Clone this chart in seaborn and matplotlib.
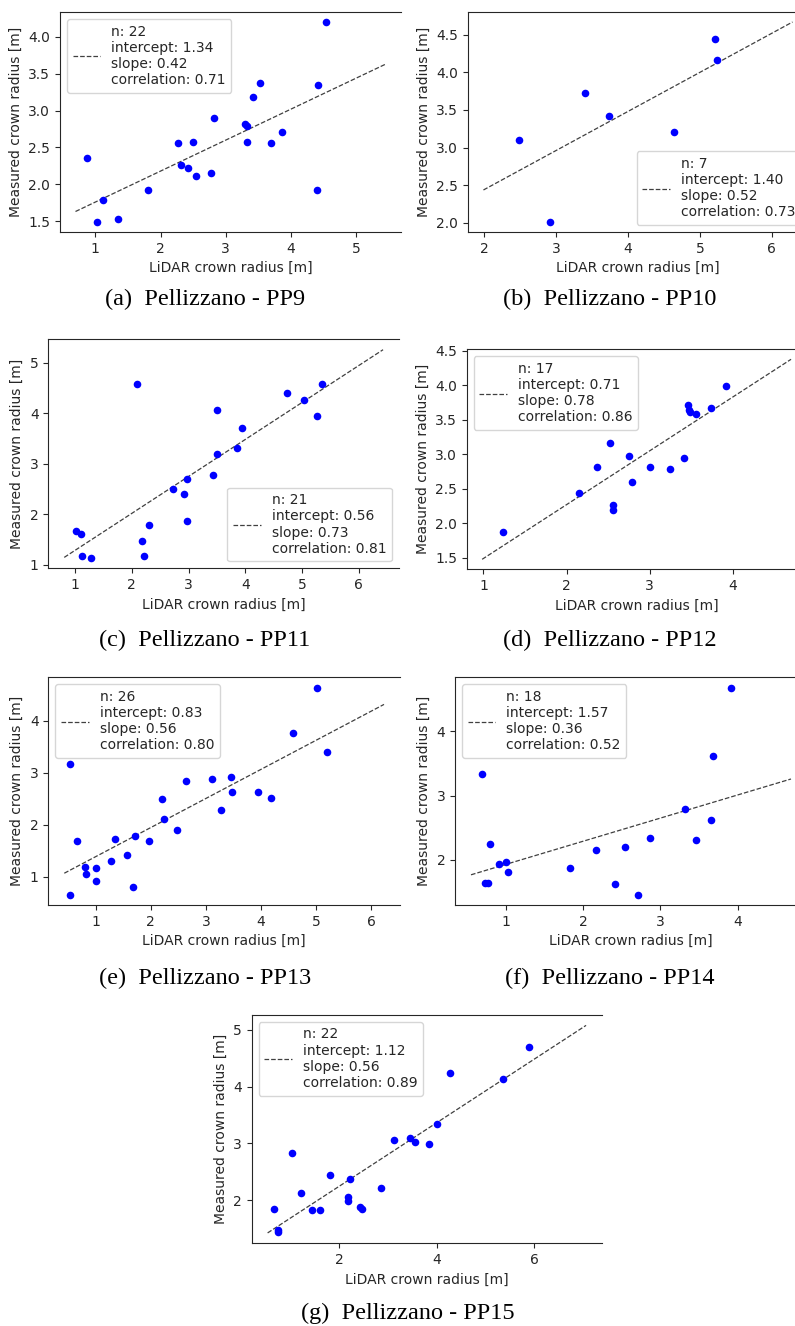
import numpy as np
import pandas as pd
import matplotlib
matplotlib.use("Agg")
import matplotlib.pyplot as plt
from matplotlib.ticker import MultipleLocator
import seaborn as sns

sns.set_style("ticks")
plt.rcParams["font.family"] = ["DejaVu Sans"]
plt.rcParams["font.size"] = 10
plt.rcParams["xtick.major.size"] = 3.5
plt.rcParams["ytick.major.size"] = 3.5

# ---------------- data ----------------
PP9_x = [0.87, 1.02, 1.12, 1.34, 1.81, 2.26, 2.32, 2.42, 2.49, 2.55, 2.77, 2.82, 3.30, 3.32, 3.33, 3.42, 3.52, 3.69, 3.86, 4.40, 4.41, 4.54]
PP9_y = [2.36, 1.49, 1.79, 1.53, 1.92, 2.56, 2.26, 2.22, 2.57, 2.11, 2.16, 2.90, 2.82, 2.79, 2.57, 3.18, 3.38, 2.56, 2.71, 1.93, 3.35, 4.20]

PP10_x = [2.49, 2.91, 3.41, 3.74, 4.64, 5.21, 5.24]
PP10_y = [3.10, 2.01, 3.73, 3.42, 3.21, 4.44, 4.16]

PP11_x = [1.01, 1.11, 1.12, 1.28, 2.10, 2.18, 2.22, 2.30, 2.72, 2.92, 2.98, 2.98, 3.44, 3.50, 3.51, 3.86, 3.95, 4.73, 5.04, 5.27, 5.36]
PP11_y = [1.67, 1.62, 1.18, 1.14, 4.57, 1.48, 1.18, 1.79, 2.50, 2.41, 2.70, 1.87, 2.78, 4.07, 3.20, 3.32, 3.70, 4.40, 4.26, 3.94, 4.57]

PP12_x = [1.23, 2.15, 2.37, 2.52, 2.56, 2.56, 2.75, 2.79, 3.01, 3.25, 3.41, 3.46, 3.47, 3.49, 3.56, 3.74, 3.92]
PP12_y = [1.87, 2.44, 2.82, 3.17, 2.26, 2.19, 2.97, 2.60, 2.81, 2.79, 2.95, 3.71, 3.64, 3.61, 3.58, 3.67, 3.99]

PP13_x = [0.54, 0.54, 0.67, 0.81, 0.82, 1.00, 1.00, 1.27, 1.36, 1.57, 1.67, 1.72, 1.96, 2.20, 2.24, 2.47, 2.64, 3.11, 3.27, 3.46, 3.48, 3.94, 4.18, 4.58, 5.01, 5.19]
PP13_y = [3.18, 0.66, 1.69, 1.19, 1.06, 1.17, 0.92, 1.31, 1.73, 1.43, 0.80, 1.79, 1.69, 2.49, 2.12, 1.91, 2.84, 2.88, 2.28, 2.92, 2.63, 2.63, 2.51, 3.76, 4.64, 3.40]

PP14_x = [0.69, 0.73, 0.77, 0.80, 0.92, 1.00, 1.03, 1.83, 2.17, 2.42, 2.55, 2.71, 2.87, 3.32, 3.46, 3.66, 3.68, 3.91]
PP14_y = [3.33, 1.64, 1.64, 2.25, 1.94, 1.97, 1.82, 1.87, 2.15, 1.63, 2.20, 1.46, 2.34, 2.80, 2.31, 2.62, 3.62, 4.68]

PP15_x = [0.67, 0.75, 0.75, 1.03, 1.22, 1.44, 1.62, 1.81, 2.18, 2.18, 2.23, 2.44, 2.48, 2.86, 3.13, 3.45, 3.56, 3.84, 4.01, 4.28, 5.36, 5.89]
PP15_y = [1.85, 1.47, 1.44, 2.83, 2.13, 1.82, 1.82, 2.44, 2.06, 1.98, 2.37, 1.87, 1.84, 2.22, 3.06, 3.09, 3.03, 2.99, 3.34, 4.23, 4.13, 4.69]

xs = [PP9_x, PP10_x, PP11_x, PP12_x, PP13_x, PP14_x, PP15_x]
ys = [PP9_y, PP10_y, PP11_y, PP12_y, PP13_y, PP14_y, PP15_y]
intercepts = [1.34, 1.40, 0.56, 0.71, 0.83, 1.57, 1.12]
slopes = [0.42, 0.52, 0.73, 0.78, 0.56, 0.36, 0.56]
correlations = [0.71, 0.73, 0.81, 0.86, 0.80, 0.52, 0.89]
captions = ["(a)  Pellizzano - PP9", "(b)  Pellizzano - PP10", "(c)  Pellizzano - PP11",
            "(d)  Pellizzano - PP12", "(e)  Pellizzano - PP13", "(f)  Pellizzano - PP14",
            "(g)  Pellizzano - PP15"]
legend_locs = ["upper left", "lower right", "lower right", "upper left", "upper left", "upper left", "upper left"]
xsteps = [1, 1, 1, 1, 1, 1, 2]
ysteps = [0.5, 0.5, 1, 0.5, 1, 1, 1]

# ---------------- layout (pixels) ----------------
W, H = 795, 1326
# left, right, top, bottom in pixels
boxes = [(60, 401, 12, 232), (468, 808, 12, 232),
         (48.3, 399, 339.3, 568.3), (466.7, 806.5, 349.3, 569.3),
         (48.3, 400, 677.3, 905), (455, 807, 677.3, 905),
         (251.7, 602, 1015, 1243.3)]
cap_pos = [(205, 305), (610, 305), (205, 646), (610, 646), (205, 984), (610, 984), (408, 1319)]

fig = plt.figure(figsize=(W / 100, H / 100), dpi=100)

for i in range(7):
    l, r, t, b = boxes[i]
    ax = fig.add_axes([l / W, 1 - b / H, (r - l) / W, (b - t) / H])
    x = np.array(xs[i]); y = np.array(ys[i])
    sns.scatterplot(x=x, y=y, ax=ax, color="blue", s=30, linewidth=0, zorder=3)
    xl = np.array([0.8 * x.min(), 1.2 * x.max()])
    line = pd.DataFrame({"x": xl, "y": intercepts[i] + slopes[i] * xl})
    lab = (f"n: {len(x)}\nintercept: {intercepts[i]:.2f}\nslope: {slopes[i]:.2f}\n"
           f"correlation: {correlations[i]:.2f}")
    sns.lineplot(data=line, x="x", y="y", ax=ax, color="0.25", linestyle="--",
                 linewidth=0.9, label=lab, zorder=2)
    ax.legend(loc=legend_locs[i], fontsize=10, handlelength=2.0)
    ax.xaxis.set_major_locator(MultipleLocator(xsteps[i]))
    ax.yaxis.set_major_locator(MultipleLocator(ysteps[i]))
    ax.spines["right"].set_visible(False)
    ax.set_xlabel("LiDAR crown radius [m]", fontsize=10)
    ax.set_ylabel("Measured crown radius [m]", fontsize=10)
    ax.tick_params(labelsize=10)
    cx, cy = cap_pos[i]
    fig.text(cx / W, 1 - cy / H, captions[i], ha="center", va="baseline",
             fontsize=17.5, family=["Liberation Serif", "DejaVu Serif"], color="black")

fig.savefig("out.png", dpi=100)
